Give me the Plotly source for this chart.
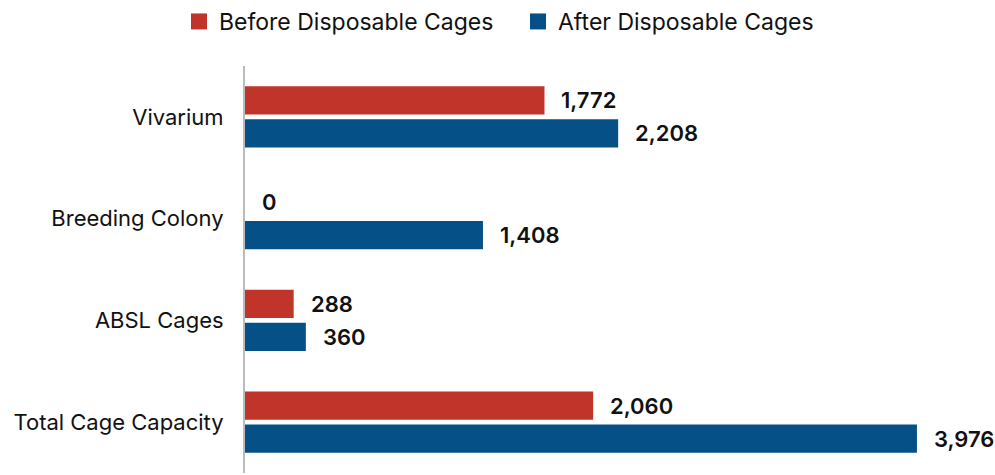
import plotly.graph_objects as go

categories = ["Vivarium", "Breeding Colony", "ABSL Cages", "Total Cage Capacity"]
before_vals = [1772, 0, 288, 2060]
after_vals = [2208, 1408, 360, 3976]
series_names = ["Before Disposable Cages", "After Disposable Cages"]
colors = ["#C13429", "#055087"]
legend_ids = ["legend", "legend2"]

FONT = "Inter, Liberation Sans, Arial, sans-serif"

fig = go.Figure()
for name, vals, col in zip(series_names, [before_vals, after_vals], colors):
    fig.add_trace(go.Bar(
        y=categories, x=vals, name=name, orientation="h",
        marker=dict(color=col, line=dict(width=0)),
        hoverinfo="x", showlegend=False, legendgroup=name,
    ))
# legend entries (square swatches)
for name, col, lg in zip(series_names, colors, legend_ids):
    fig.add_trace(go.Scatter(
        x=[None], y=[None], mode="markers", name=name, legendgroup=name,
        legend=lg,
        marker=dict(symbol="square", size=16, color=col, line=dict(width=0)),
    ))

annotations = []
for vals, shift in [(before_vals, 16.5), (after_vals, -16.5)]:
    for cat, v in zip(categories, vals):
        annotations.append(dict(
            x=v, y=cat, xref="x", yref="y", text=f"{v:,}",
            showarrow=False, xanchor="left", yanchor="middle",
            xshift=15, yshift=shift,
            font=dict(family=FONT, size=22, color="#111111", weight=600),
        ))

legend_common = dict(
    orientation="h", xref="container", yref="container",
    xanchor="left", y=1.0, yanchor="top",
    font=dict(size=23, family=FONT, color="#111111"),
)

fig.update_layout(
    width=995, height=475,
    margin=dict(l=245, r=74, t=66, b=2, autoexpand=False),
    paper_bgcolor="white", plot_bgcolor="white",
    barmode="group", bargap=0.35, bargroupgap=0.15,
    font=dict(family=FONT, size=22, color="#111111"),
    legend=dict(x=179 / 995, **legend_common),
    legend2=dict(x=518 / 995, **legend_common),
    xaxis=dict(range=[0, 4000], showgrid=False, zeroline=False,
               showticklabels=False, showline=False, ticks=""),
    yaxis=dict(autorange="reversed", showgrid=False, zeroline=False,
               showline=True, linecolor="#BBBBBB", linewidth=2,
               ticks="outside", ticklen=15, tickcolor="rgba(0,0,0,0)",
               tickfont=dict(size=22, family=FONT, color="#111111")),
    annotations=annotations,
)

fig.write_html("out.html")
